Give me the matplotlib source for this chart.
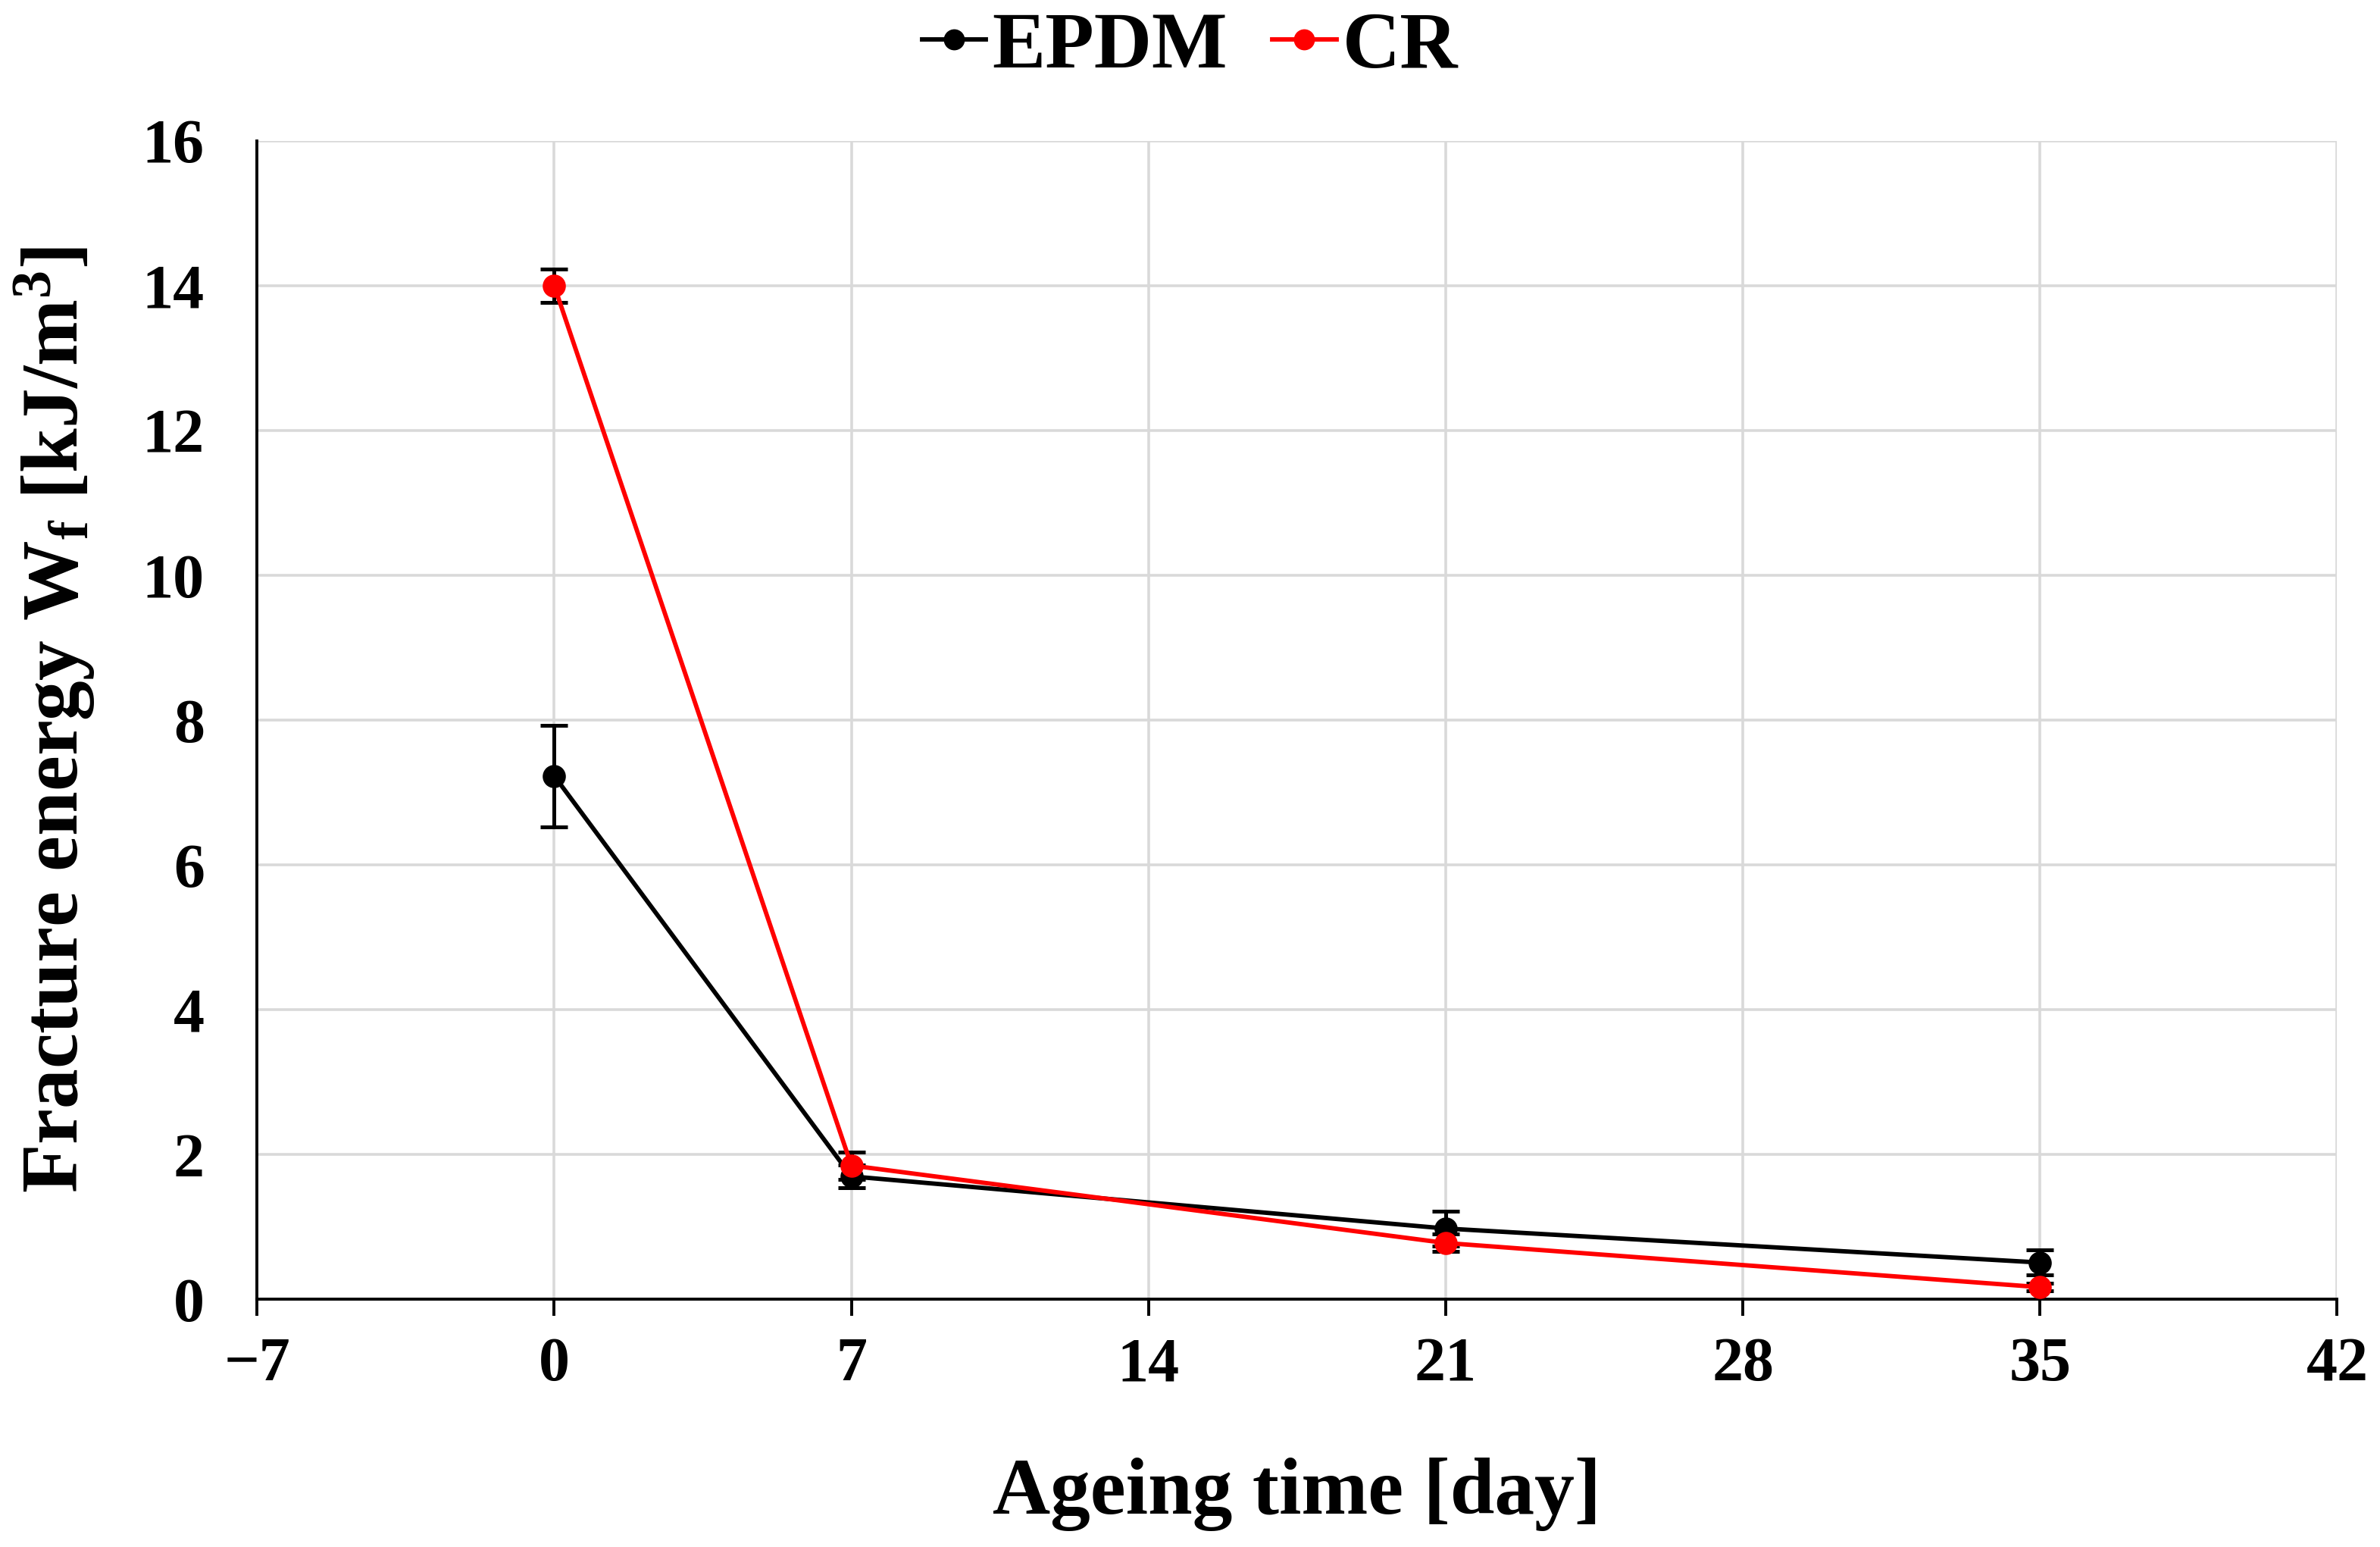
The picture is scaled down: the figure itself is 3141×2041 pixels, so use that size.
import numpy as np
import matplotlib
matplotlib.use("Agg")
import matplotlib.pyplot as plt
from matplotlib.lines import Line2D

plt.rcParams['font.family'] = ['Liberation Serif', 'DejaVu Serif']
plt.rcParams['font.weight'] = 'bold'
plt.rcParams['mathtext.fontset'] = 'custom'
plt.rcParams['mathtext.rm'] = 'Liberation Serif:bold'
plt.rcParams['mathtext.bf'] = 'Liberation Serif:bold'
plt.rcParams['mathtext.default'] = 'rm'

# ageing time [day]
days = [0, 7, 21, 35]

# fracture energy [kJ/m3] and error
epdm = [7.23, 1.70, 0.98, 0.51]
epdm_err = [0.70, 0.16, 0.24, 0.17]
cr = [14.0, 1.85, 0.78, 0.17]
cr_err = [0.23, 0.19, 0.12, 0.05]

xticks = [-7, 0, 7, 14, 21, 28, 35, 42]
yticks = [0, 2, 4, 6, 8, 10, 12, 14, 16]

fig = plt.figure(figsize=(15.705, 10.205), dpi=200)
ax = fig.add_axes([0.108, 0.160, 0.874, 0.749])

ax.errorbar(days, epdm, yerr=epdm_err, color='black', ecolor='black',
            marker='o', markersize=10, linewidth=2.1, elinewidth=1.8,
            capsize=6.5, capthick=1.8, zorder=3)
ax.errorbar(days, cr, yerr=cr_err, color='#ff0000', ecolor='black',
            marker='o', markersize=10, linewidth=2.1, elinewidth=1.8,
            capsize=6.5, capthick=1.8, zorder=4)

ax.set_xlim(-7, 42)
ax.set_ylim(0, 16)
ax.set_xticks(xticks)
ax.set_yticks(yticks)
ax.grid(True, color='#d9d9d9', linewidth=1.3)
ax.set_axisbelow(True)

for s in ['top', 'right']:
    ax.spines[s].set_visible(False)
for s in ['left', 'bottom']:
    ax.spines[s].set_linewidth(1.4)
    ax.spines[s].set_color('black')

ax.tick_params(axis='x', direction='out', length=8, width=1.4, pad=10,
               labelsize=29.5)
ax.tick_params(axis='y', length=0, pad=25, labelsize=29.5)
for lab in ax.get_xticklabels() + ax.get_yticklabels():
    lab.set_fontweight('bold')

ax.set_xlabel('Ageing time [day]', fontsize=38, fontweight='bold', labelpad=30)
ax.set_ylabel(r'Fracture energy W$_{f}$ [kJ/m$^{3}$]', fontsize=38,
              fontweight='bold', labelpad=22)

handles = [Line2D([], [], color='black', marker='o', markersize=9, linewidth=2.1),
           Line2D([], [], color='#ff0000', marker='o', markersize=9, linewidth=2.1)]
fig.legend(handles, ['EPDM', 'CR'], loc='center', bbox_to_anchor=(0.5, 0.969),
           ncol=2, frameon=False, prop={'size': 38, 'weight': 'bold'},
           handlelength=0.8, handletextpad=0.08, columnspacing=0.56)

fig.savefig('out.png', dpi=200)
